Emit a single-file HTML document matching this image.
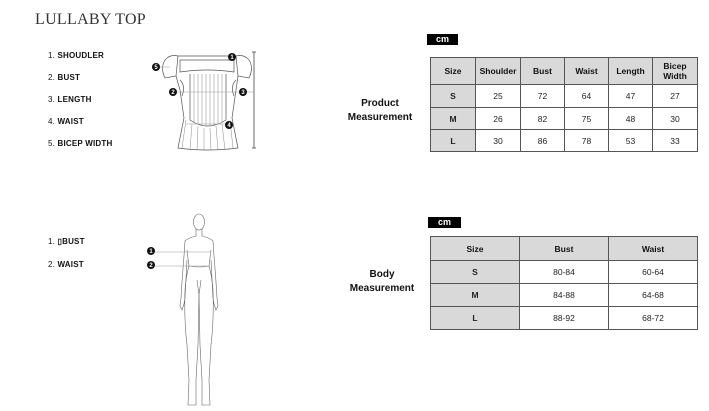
<!DOCTYPE html>
<html><head><meta charset="utf-8"><style>
*{margin:0;padding:0;box-sizing:border-box}
body{width:709px;height:411px;background:#fff;position:relative;overflow:hidden;font-family:"Liberation Sans",sans-serif;color:#111}
.abs{position:absolute}
.lbl{position:absolute;font-size:8px;font-weight:bold;letter-spacing:0.2px}
.lbl span{font-weight:normal}
.cm{position:absolute;background:#000;color:#fff;font-size:9px;font-weight:bold;text-align:center;line-height:11px}
table{position:absolute;border-collapse:collapse;font-size:8.5px;table-layout:fixed}
td{border:1px solid #555;text-align:center;padding:0;color:#222;background-color:#ffffff}
tr.h td{background-color:#d9d9d9;font-weight:bold;color:#111}
td.s{background-color:#d9d9d9;font-weight:bold}
.title{position:absolute;font-size:10px;font-weight:bold;text-align:center;line-height:14px}
</style></head><body>
<div class="abs" style="left:35px;top:11px;font-family:'Liberation Serif',serif;font-size:16px;letter-spacing:0.3px;color:#333">LULLABY TOP</div>
<div class="lbl" style="left:48px;top:51px"><span>1.</span> SHOUDLER</div>
<div class="lbl" style="left:48px;top:73px"><span>2.</span> BUST</div>
<div class="lbl" style="left:48px;top:95px"><span>3.</span> LENGTH</div>
<div class="lbl" style="left:48px;top:117px"><span>4.</span> WAIST</div>
<div class="lbl" style="left:48px;top:139px"><span>5.</span> BICEP WIDTH</div>
<div class="lbl" style="left:48px;top:237px"><span>1.</span> ▯BUST</div>
<div class="lbl" style="left:48px;top:260px"><span>2.</span> WAIST</div>

<svg class="abs" style="left:0;top:0" width="430" height="411" viewBox="0 0 430 411">
<g fill="none" stroke="#555" stroke-width="0.7">
<path d="M178 56 L236 56 M178 56 Q170 54 165 60 Q160 68 165 78 L176 76 Z M236 56 Q244 54 249 60 Q254 68 249 78 L238 76 Z"/>
<path d="M180 60 L234 60 L234 72 Q207 68 180 72 Z"/>
<path d="M176 76 L180 90 L184 118 L178 148 Q207 152 238 148 L232 118 L236 90 L238 76"/>
<path d="M190 74 L190 120 Q207 132 226 120 L226 74"/>
<g stroke="#888" stroke-width="0.5"><path d="M194 74V122M198 74V124M202 74V126M206 74V127M210 74V127M214 74V126M218 74V124M222 74V122M186 120L182 148M192 124L190 150M198 126L197 150M204 128L204 150M210 128L211 150M216 126L218 150M222 124L225 150M230 120L233 148"/></g>
<path d="M180 80 Q186 86 182 96 M236 80 Q230 86 234 96"/>
</g>
<g stroke="#999" stroke-width="0.5"><line x1="160" y1="67" x2="170" y2="67"/><line x1="176" y1="92" x2="240" y2="92"/><line x1="186" y1="124" x2="226" y2="124"/><line x1="245" y1="92" x2="254" y2="92"/></g>
<line x1="254" y1="52" x2="254" y2="148" stroke="#444" stroke-width="0.8"/>
<line x1="252" y1="52" x2="256" y2="52" stroke="#444" stroke-width="0.8"/>
<line x1="252" y1="148" x2="256" y2="148" stroke="#444" stroke-width="0.8"/>
<g font-family="Liberation Sans,sans-serif" font-size="6" font-weight="bold" text-anchor="middle" fill="#fff">
<circle cx="232" cy="57" r="4" fill="#111"/><text x="232" y="59.2">1</text>
<circle cx="156" cy="67" r="4" fill="#111"/><text x="156" y="69.2">5</text>
<circle cx="173" cy="92" r="4" fill="#111"/><text x="173" y="94.2">2</text>
<circle cx="243" cy="92" r="4" fill="#111"/><text x="243" y="94.2">3</text>
<circle cx="229" cy="125" r="4" fill="#111"/><text x="229" y="127.2">4</text>
<circle cx="151" cy="251" r="4" fill="#111"/><text x="151" y="253.2">1</text>
<circle cx="151" cy="265" r="4" fill="#111"/><text x="151" y="267.2">2</text>
</g>
<g fill="none" stroke="#666" stroke-width="0.6">
<ellipse cx="199" cy="222" rx="5.5" ry="8"/>
<path d="M196 229 L196 236 Q188 238 185 241 L184 256 Q182 280 181 298 L180 306 L182 310 L184 304 L185 298 Q186 280 187 260"/>
<path d="M202 229 L202 236 Q210 238 213 241 L214 256 Q216 280 217 298 L218 306 L216 310 L214 304 L213 298 Q212 280 211 260"/>
<path d="M187 250 Q188 258 189 266 Q186 276 185 290 Q184 320 187 345 L189 380 L188 405 L196 405 L196 380 L198 345 L199 295"/>
<path d="M211 250 Q210 258 209 266 Q212 276 213 290 Q214 320 211 345 L209 380 L210 405 L202 405 L202 380 L200 345 L199 295"/>
<path d="M189 266 Q199 268 209 266 M197 280 L199 295 L201 280"/>
</g>
<g stroke="#999" stroke-width="0.5"><line x1="155" y1="252" x2="210" y2="252"/><line x1="155" y1="266" x2="208" y2="266"/></g>
</svg>

<div class="title" style="left:340px;top:97px;width:80px">Product<br>Measurement</div>
<div class="title" style="left:342px;top:268px;width:80px">Body<br>Measurement</div>

<div class="cm" style="left:427px;top:34px;width:31px;height:11px">cm</div>
<div class="cm" style="left:428px;top:217px;width:33px;height:11px">cm</div>

<table style="left:430px;top:57px;width:267px">
<tr class="h" style="height:27px"><td style="width:45px">Size</td><td style="width:45px">Shoulder</td><td style="width:44px">Bust</td><td style="width:44px">Waist</td><td style="width:44px">Length</td><td style="width:45px">Bicep<br>Width</td></tr>
<tr style="height:23px"><td class="s">S</td><td>25</td><td>72</td><td>64</td><td>47</td><td>27</td></tr>
<tr style="height:22px"><td class="s">M</td><td>26</td><td>82</td><td>75</td><td>48</td><td>30</td></tr>
<tr style="height:22px"><td class="s">L</td><td>30</td><td>86</td><td>78</td><td>53</td><td>33</td></tr>
</table>

<table style="left:430px;top:236px;width:267px">
<tr class="h" style="height:24px"><td style="width:89px">Size</td><td style="width:89px">Bust</td><td style="width:89px">Waist</td></tr>
<tr style="height:23px"><td class="s">S</td><td style="background:#fff">80-84</td><td style="background:#fff">60-64</td></tr>
<tr style="height:23px"><td class="s">M</td><td style="background:#fff">84-88</td><td style="background:#fff">64-68</td></tr>
<tr style="height:23px"><td class="s">L</td><td style="background:#fff">88-92</td><td style="background:#fff">68-72</td></tr>
</table>
</body></html>
